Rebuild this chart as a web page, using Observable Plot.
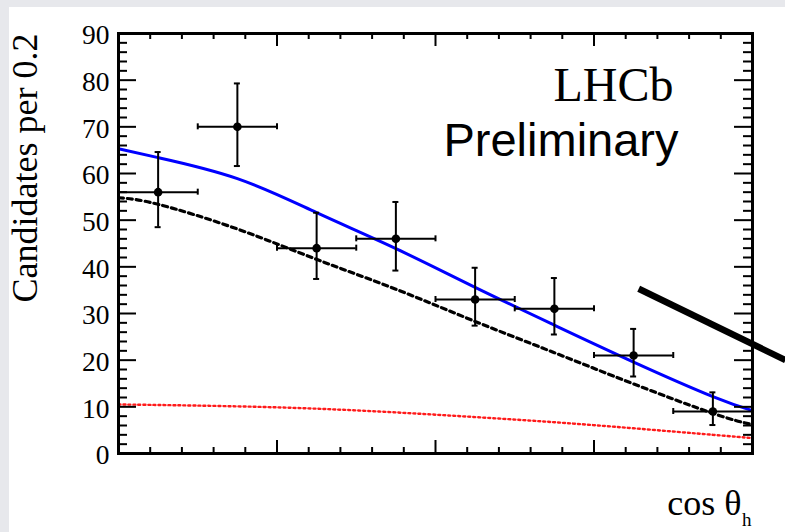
<!DOCTYPE html>
<html><head><meta charset="utf-8">
<script src="https://cdn.jsdelivr.net/npm/d3@7"></script>
<script src="https://cdn.jsdelivr.net/npm/@observablehq/plot@0.6"></script>
<style>
html,body{margin:0;padding:0;background:#e7e8ec;width:785px;height:532px;overflow:hidden}
#chart{position:absolute;left:9px;top:7px;width:776px;height:525px;background:#fff}
</style></head><body><div id="chart"></div>
<script>
// data
const binCenters = [-0.875, -0.625, -0.375, -0.125, 0.125, 0.375, 0.625, 0.875];
const binHalfWidth = 0.125;
const counts   = [56, 70, 44, 46, 33, 31, 21, 9];
const errLow   = [48.5, 61.6, 37.4, 39.2, 27.4, 25.5, 16.5, 6.1];
const errHigh  = [64.6, 79.3, 51.6, 53.9, 39.8, 37.6, 26.7, 13.1];

const curveX        = [-1, -0.875, -0.625, -0.375, -0.125, 0.125, 0.375, 0.625, 0.875, 1];
const totalFit      = [65.3, 63.4, 58.9, 51.6, 43.9, 35.6, 27.5, 19.6, 12.2, 9.2];
const signalFit     = [54.8, 53.4, 48.1, 41.6, 35.2, 28.3, 21.6, 14.9, 8.6, 6.2];
const backgroundFit = [10.5, 10.4, 10.1, 9.6, 8.8, 7.8, 6.7, 5.4, 4.0, 3.3];

const arrowX = [0.641, 1.104];
const arrowY = [35.3, 20.0];

const yMajorTicks = [0, 10, 20, 30, 40, 50, 60, 70, 80, 90];
const yMinorTicks = [2,4,6,8,12,14,16,18,22,24,26,28,32,34,36,38,42,44,46,48,52,54,56,58,62,64,66,68,72,74,76,78,82,84,86,88];
const xMajorTicks = [-1, -0.5, 0, 0.5, 1];
const xMinorTicks = [-0.9,-0.8,-0.7,-0.6,-0.4,-0.3,-0.2,-0.1,0.1,0.2,0.3,0.4,0.6,0.7,0.8,0.9];

const xTitle = "cos θ";
const xTitleSub = "h";
const yTitle = "Candidates per 0.2";
const label1 = "LHCb";
const label2 = "Preliminary";

// build tables
const pts = binCenters.map((x, i) => ({x, y: counts[i], lo: errLow[i], hi: errHigh[i], xl: x - binHalfWidth, xh: x + binHalfWidth}));
const curve = arr => curveX.map((x, i) => ({x, y: arr[i]}));
const arrow = arrowX.map((x, i) => ({x, y: arrowY[i]}));

const W = 776, H = 525, mL = 109, mR = 33, mT = 26, mB = 79;
const fw = W - mL - mR, fh = H - mT - mB;
const serif = "Liberation Serif, Times New Roman, serif";
const sans = "Liberation Sans, Arial, sans-serif";

const plot = Plot.plot({
  width: W, height: H,
  marginLeft: mL, marginRight: mR, marginTop: mT, marginBottom: mB,
  style: {background: "transparent", overflow: "visible"},
  x: {domain: [-1, 1], axis: null},
  y: {domain: [0, 90], axis: null},
  marks: [
    // curves
    Plot.line(curve(backgroundFit), {x: "x", y: "y", curve: "natural", stroke: "#ff1a1a", strokeWidth: 2.4, strokeDasharray: "2,3"}),
    Plot.line(curve(signalFit), {x: "x", y: "y", curve: "natural", stroke: "#000", strokeWidth: 3.2, strokeDasharray: "5,4"}),
    Plot.line(curve(totalFit), {x: "x", y: "y", curve: "natural", stroke: "#0000ff", strokeWidth: 3}),
    // error bars
    Plot.ruleX(pts, {x: "x", y1: "lo", y2: "hi", stroke: "#000", strokeWidth: 2}),
    Plot.ruleY(pts, {y: "y", x1: "xl", x2: "xh", stroke: "#000", strokeWidth: 2}),
    Plot.ruleY(pts, {y: "lo", x1: "x", x2: "x", insetLeft: -3, insetRight: -3, stroke: "#000", strokeWidth: 2}),
    Plot.ruleY(pts, {y: "hi", x1: "x", x2: "x", insetLeft: -3, insetRight: -3, stroke: "#000", strokeWidth: 2}),
    Plot.ruleX(pts, {x: "xl", y1: "y", y2: "y", insetTop: -3, insetBottom: -3, stroke: "#000", strokeWidth: 2}),
    Plot.ruleX(pts, {x: "xh", y1: "y", y2: "y", insetTop: -3, insetBottom: -3, stroke: "#000", strokeWidth: 2}),
    Plot.dot(pts, {x: "x", y: "y", r: 4.3, fill: "#000", stroke: "none"}),
    // ticks (inward)
    Plot.tickY(yMajorTicks, {y: d => d, insetRight: fw - 18, stroke: "#000", strokeWidth: 2}),
    Plot.tickY(yMinorTicks, {y: d => d, insetRight: fw - 9, stroke: "#000", strokeWidth: 2}),
    Plot.tickY(yMajorTicks, {y: d => d, insetLeft: fw - 18, stroke: "#000", strokeWidth: 2}),
    Plot.tickY(yMinorTicks, {y: d => d, insetLeft: fw - 9, stroke: "#000", strokeWidth: 2}),
    Plot.tickX(xMajorTicks, {x: d => d, insetTop: fh - 13, stroke: "#000", strokeWidth: 2}),
    Plot.tickX(xMinorTicks, {x: d => d, insetTop: fh - 6, stroke: "#000", strokeWidth: 2}),
    Plot.tickX(xMajorTicks, {x: d => d, insetBottom: fh - 13, stroke: "#000", strokeWidth: 2}),
    Plot.tickX(xMinorTicks, {x: d => d, insetBottom: fh - 6, stroke: "#000", strokeWidth: 2}),
    Plot.frame({stroke: "#000", strokeWidth: 3}),
    // y tick labels
    Plot.text(yMajorTicks, {y: d => d, text: d => String(d), frameAnchor: "left", textAnchor: "end", dx: -9, dy: 2, fontSize: 27.5, fontFamily: serif, fill: "#000"}),
    // titles
    Plot.text([yTitle], {text: d => d, frameAnchor: "top-left", rotate: -90, textAnchor: "end", lineAnchor: "bottom", dx: -82, dy: 0, fontSize: 36, fontFamily: serif, fill: "#000"}),
    Plot.text([xTitle], {text: d => d, frameAnchor: "bottom-right", textAnchor: "end", lineAnchor: "bottom", dx: -11, dy: 61, fontSize: 36, fontFamily: serif, fill: "#000"}),
    Plot.text([xTitleSub], {text: d => d, frameAnchor: "bottom-right", textAnchor: "end", lineAnchor: "bottom", dx: -1, dy: 72, fontSize: 19, fontFamily: serif, fill: "#000"}),
    Plot.text([label1], {text: d => d, frameAnchor: "top-right", textAnchor: "end", lineAnchor: "bottom", dx: -79, dy: 67, fontSize: 48, fontFamily: serif, fill: "#000"}),
    Plot.text([label2], {text: d => d, frameAnchor: "top-right", textAnchor: "end", lineAnchor: "bottom", dx: -74, dy: 122, fontSize: 47, fontFamily: sans, fill: "#000"}),
    // thick annotation line
    Plot.line(arrow, {x: "x", y: "y", stroke: "#000", strokeWidth: 6.5, strokeLinecap: "butt"})
  ]
});
document.getElementById("chart").appendChild(plot);
</script></body></html>
